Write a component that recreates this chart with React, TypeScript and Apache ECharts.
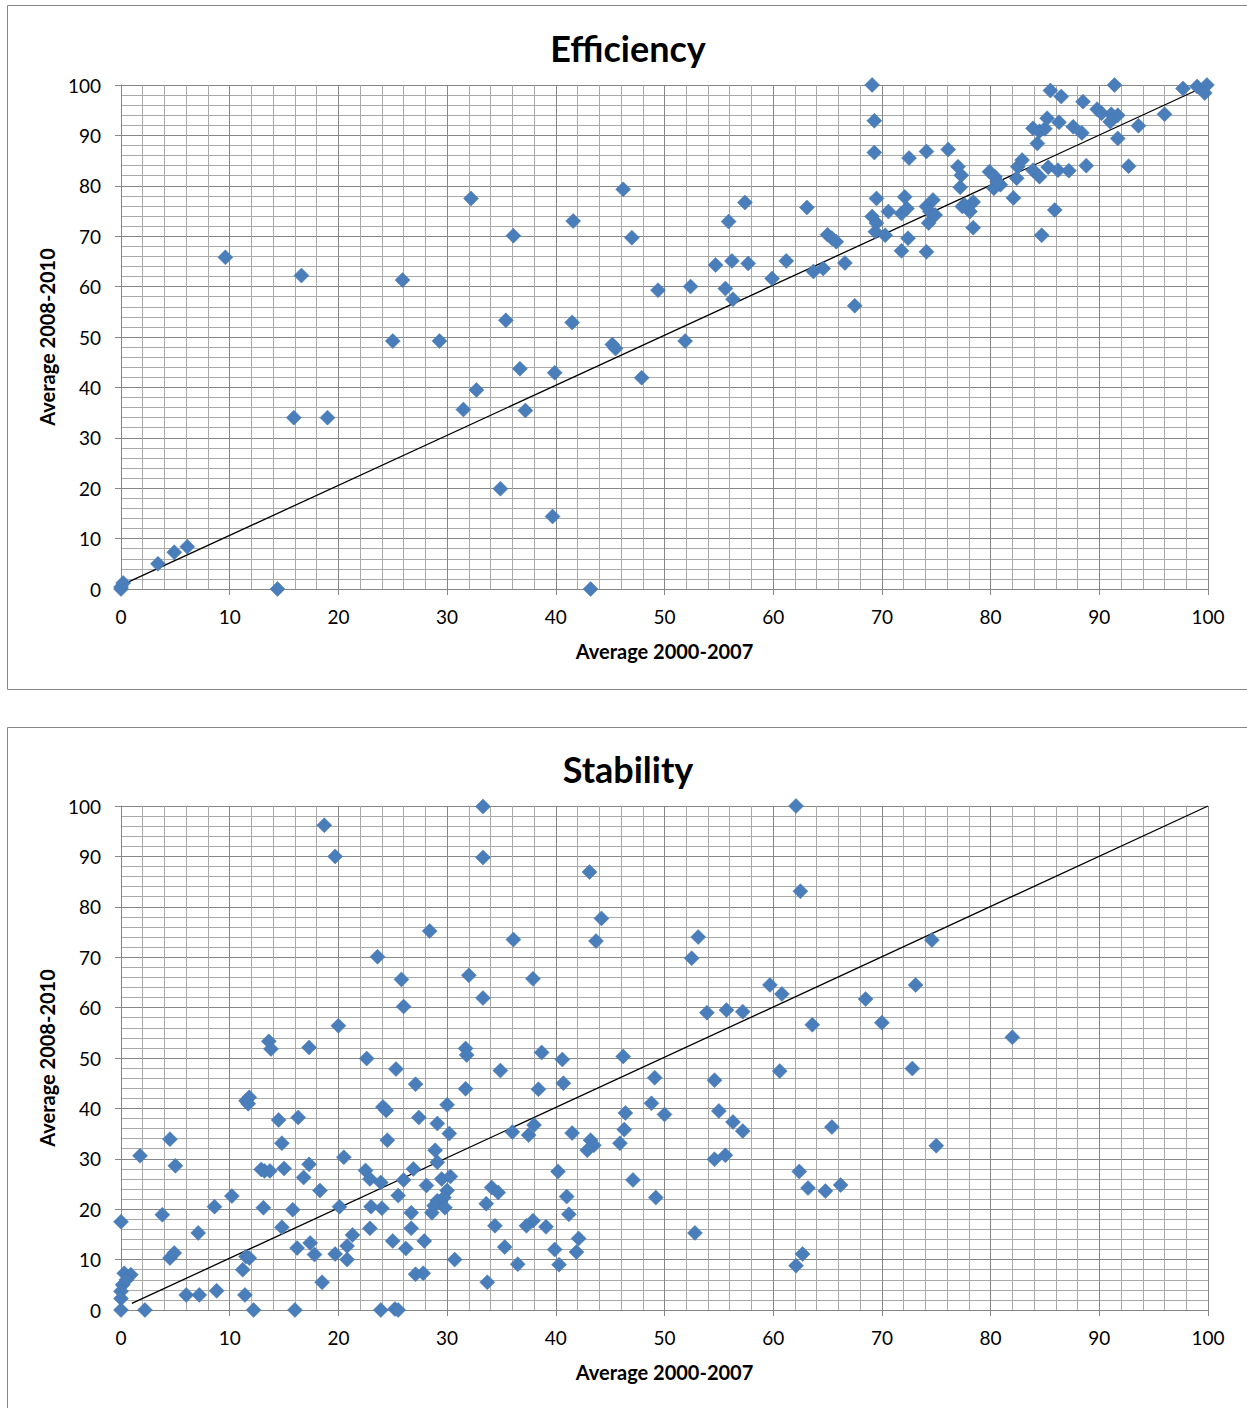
import React, { useEffect, useRef } from "react";
import * as echarts from "echarts";

// ---------- Efficiency (Average 2000-2007 vs Average 2008-2010) ----------
const effX = [
  0, 0, 0.2, 3.4, 4.9, 6.1, 9.6, 14.4, 15.9, 16.6, 19, 25, 25.9, 29.3, 31.5, 32.2, 32.7, 34.9, 35.4, 36.1,
  36.7, 37.2, 39.7, 39.9, 41.5, 41.6, 43.2, 45.2, 45.5, 46.2, 47, 47.9, 49.4, 51.9, 52.4, 54.7, 55.6, 55.9, 56.2, 56.3,
  57.7, 57.4, 59.9, 61.2, 63.1, 63.7, 64.6, 65, 65.4, 65.8, 66.6, 67.5, 69.1, 69.3, 69.3, 69.5, 69.1, 69.5, 69.4, 70.3,
  70.6, 71.8, 72.1, 72.3, 72.4, 71.8, 72.5, 74.1, 74.1, 74.7, 74.4, 74.3, 74.9, 74.1, 76.1, 77.0, 77.3, 77.2, 77.4, 78.1,
  78.4, 78.4, 79.9, 80.4, 80.9, 80.3, 82.1, 82.5, 82.9, 82.4, 83.9, 84.5, 85.3, 86.2, 87.2, 88.8, 92.7, 85.9, 84.7, 83.9,
  84.5, 85.0, 85.2, 84.3, 85.5, 86.5, 86.3, 87.6, 88.4, 88.5, 89.8, 90.2, 91.4, 91.1, 91.7, 91, 91.7, 93.6, 96, 97.7,
  99, 99.9, 99.7, 77.6, 80.6,
];
const effY = [
  0, 0.4, 1.2, 5, 7.3, 8.4, 65.8, 0, 34, 62.2, 34, 49.2, 61.3, 49.2, 35.6, 77.5, 39.5, 19.9, 53.3, 70.1,
  43.7, 35.4, 14.4, 42.9, 52.9, 73, 0, 48.5, 47.7, 79.3, 69.7, 41.9, 59.3, 49.2, 60, 64.3, 59.6, 72.9, 65.1, 57.5,
  64.6, 76.7, 61.6, 65.1, 75.7, 63, 63.6, 70.3, 69.6, 68.9, 64.7, 56.2, 100, 92.9, 86.6, 77.5, 73.9, 72.6, 70.9, 70.2,
  74.9, 74.5, 77.8, 75.5, 69.6, 67.1, 85.5, 66.9, 75.9, 77.2, 74.9, 72.6, 74.2, 86.8, 87.2, 83.8, 82.1, 79.7, 75.9, 74.9,
  76.8, 71.7, 82.8, 81.8, 80.2, 79.5, 77.6, 83.8, 85.1, 81.5, 83.1, 81.8, 83.7, 83.1, 83, 84, 83.9, 75.2, 70.2, 91.4,
  90.8, 91.3, 93.4, 88.4, 98.9, 97.7, 92.6, 91.7, 90.5, 96.7, 95.2, 94.4, 100, 94.2, 94, 92.7, 89.4, 91.9, 94.2, 99.3,
  99.7, 100, 98.4, 76.2, 80.8,
];

// ---------- Stability ----------
const stabX = [
  11.5, 11.8, 11.7, 14.5, 16.3, 4.5, 1.75, 5, 14.8, 12.9, 13.2, 13.7, 15, 10.2, 8.6, 13.1, 15.8, 0, 3.8, 7.1,
  14.8, 4.5, 4.9, 11.5, 11.8, 11.2, 0.3, 0.9, 0.15, 0, 0, 6, 7.2, 8.8, 11.4, 0, 2.2, 12.2, 16, 16.2,
  0.5, 24.1, 24.4, 27.4, 30, 29.1, 30.2, 24.5, 28.9, 29.1, 20.5, 17.3, 16.8, 18.3, 22.5, 22.9, 23.9, 26, 26.9, 25.5,
  28.1, 29.5, 30.3, 30, 29.1, 29.7, 28.8, 29.8, 28.6, 23, 24, 20.1, 26.7, 26.7, 22.9, 21.3, 25, 26.2, 27.9, 20.8,
  20.8, 17.4, 17.8, 19.7, 30.7, 18.5, 27.1, 27.8, 23.9, 25.2, 25.5, 46.4, 46.3, 45.9, 36, 38, 37.5, 41.5, 43.2, 43.5,
  42.9, 40.2, 47.1, 34.1, 34.7, 33.6, 41, 41.2, 34.4, 37.9, 37.3, 39.1, 35.3, 42.1, 41.9, 39.9, 40.3, 36.5, 33.7, 23.6,
  25.8, 26, 32, 33.3, 37.9, 20, 13.6, 13.8, 17.3, 22.6, 25.3, 27.1, 31.7, 31.8, 34.9, 31.7, 38.7, 40.6, 40.7, 38.4,
  46.2, 33.3, 18.7, 19.7, 33.3, 43.1, 44.2, 28.4, 36.1, 43.7, 53.1, 52.5, 59.7, 60.8, 68.5, 73.1, 53.9, 55.7, 57.2, 63.6,
  70, 82, 49.1, 54.6, 60.6, 72.8, 48.8, 50, 55, 56.3, 57.2, 65.4, 75, 54.6, 55.6, 49.2, 62.4, 63.2, 64.8, 66.2,
  52.8, 62.7, 62.1, 62.1, 62.5, 74.6,
];
const stabY = [
  41.5, 42.2, 40.9, 37.7, 38.2, 33.9, 30.6, 28.6, 33.1, 27.9, 27.6, 27.6, 28.1, 22.6, 20.5, 20.3, 19.9, 17.5, 18.9, 15.3,
  16.4, 10.3, 11.3, 10.6, 10.3, 8, 7.3, 7, 5, 3.7, 2.3, 3, 3, 3.8, 3, 0, 0, 0, 0, 12.3,
  6, 40.3, 39.6, 38.2, 40.7, 37, 35, 33.7, 31.7, 29.3, 30.3, 28.9, 26.3, 23.7, 27.7, 26, 25.3, 25.8, 28, 22.7,
  24.7, 26, 26.5, 23.7, 21.7, 22.3, 20.7, 20.3, 19.3, 20.5, 20.2, 20.5, 19.3, 16.2, 16.2, 14.9, 13.7, 12.2, 13.7, 12.7,
  10, 13.3, 11, 11.1, 10, 5.5, 7.1, 7.3, 0, 0.2, 0, 39.1, 35.8, 33.1, 35.3, 36.7, 34.7, 35.1, 33.7, 32.7,
  31.7, 27.5, 25.8, 24.3, 23.3, 21.1, 22.5, 19, 16.7, 17.7, 16.7, 16.5, 12.5, 14.2, 11.5, 12, 9, 9.1, 5.5, 70.1,
  65.6, 60.2, 66.4, 61.9, 65.7, 56.4, 53.3, 51.8, 52.1, 49.9, 47.8, 44.8, 51.9, 50.6, 47.5, 43.9, 51.1, 49.7, 45, 43.8,
  50.3, 99.9, 96.2, 90, 89.8, 86.9, 77.7, 75.2, 73.5, 73.2, 74, 69.8, 64.5, 62.7, 61.7, 64.5, 59, 59.5, 59.2, 56.6,
  57, 54.1, 46.1, 45.6, 47.4, 47.9, 41, 38.8, 39.5, 37.3, 35.5, 36.3, 32.6, 29.9, 30.7, 22.3, 27.5, 24.2, 23.6, 24.8,
  15.3, 11.1, 8.8, 100, 83.1, 73.4,
];

// reference lines (start, end)
const effLine = [[0.4, 1.1], [100, 100]];
const stabLine = [[1, 1.3], [100, 100]];

const titles = ["Efficiency", "Stability"];
const xAxisName = "Average 2000-2007";
const yAxisName = "Average 2008-2010";

const FONT = "Lato, 'Liberation Sans', sans-serif";
const MAJOR = "#868686";
const MINOR = "#a9a9a9";
const MARK = "#4a7ebb";

const zip = (xs: number[], ys: number[]) => xs.map((x, i) => [x, ys[i]]);

function axis(gridIndex: number, isY: boolean) {
  return {
    type: "value",
    gridIndex,
    min: 0,
    max: 100,
    interval: 10,
    name: isY ? yAxisName : xAxisName,
    nameLocation: "middle",
    nameGap: isY ? 62 : 52,
    nameTextStyle: { fontFamily: FONT, fontWeight: "bold", fontSize: 20, color: "#000" },
    axisLine: { show: true, onZero: false, lineStyle: { color: MAJOR, width: 1 } },
    axisTick: { show: true, inside: false, length: 6, lineStyle: { color: MAJOR, width: 1 } },
    axisLabel: { margin: isY ? 20 : 18, fontFamily: FONT, fontSize: 19, color: "#000" },
    splitLine: { show: true, lineStyle: { color: MAJOR, width: 1 } },
    minorTick: { show: false, splitNumber: 5 },
    minorSplitLine: { show: true, lineStyle: { color: MINOR, width: 1 } },
  };
}

export default function App() {
  const ref = useRef<HTMLDivElement>(null);
  useEffect(() => {
    if (!ref.current) return;
    const chart = echarts.init(ref.current, undefined, { renderer: "svg" });
    const scatter = (idx: number, data: number[][]) => ({
      type: "scatter",
      xAxisIndex: idx,
      yAxisIndex: idx,
      data,
      symbol: "diamond",
      symbolSize: 15,
      clip: false,
      z: 3,
      itemStyle: { color: MARK, borderColor: "#4274b0", borderWidth: 0.5, opacity: 1 },
    });
    const line = (idx: number, data: number[][]) => ({
      type: "line",
      xAxisIndex: idx,
      yAxisIndex: idx,
      data,
      symbol: "none",
      z: 2,
      lineStyle: { color: "#000", width: 1.3 },
    });
    chart.setOption({
      animation: false,
      backgroundColor: "#fff",
      grid: [
        { left: 121, top: 85, width: 1087, height: 504 },
        { left: 121, top: 806, width: 1087, height: 504 },
      ],
      xAxis: [axis(0, false), axis(1, false)],
      yAxis: [axis(0, true), axis(1, true)],
      graphic: [
        { type: "rect", shape: { x: 7.5, y: 5.5, width: 1270, height: 684 }, style: { fill: "none", stroke: MAJOR, lineWidth: 1 }, silent: true },
        { type: "rect", shape: { x: 7.5, y: 727.5, width: 1270, height: 720 }, style: { fill: "none", stroke: MAJOR, lineWidth: 1 }, silent: true },
        { type: "text", x: 628, y: 48, style: { text: titles[0], fontFamily: FONT, fontWeight: "bold", fontSize: 36, fill: "#000", align: "center", verticalAlign: "middle" } },
        { type: "text", x: 628, y: 769, style: { text: titles[1], fontFamily: FONT, fontWeight: "bold", fontSize: 36, fill: "#000", align: "center", verticalAlign: "middle" } },
      ],
      series: [
        line(0, effLine),
        scatter(0, zip(effX, effY)),
        line(1, stabLine),
        scatter(1, zip(stabX, stabY)),
      ],
    });
    return () => chart.dispose();
  }, []);
  return <div ref={ref} style={{ position: "absolute", left: 0, top: 0, width: 1247, height: 1408 }} />;
}
